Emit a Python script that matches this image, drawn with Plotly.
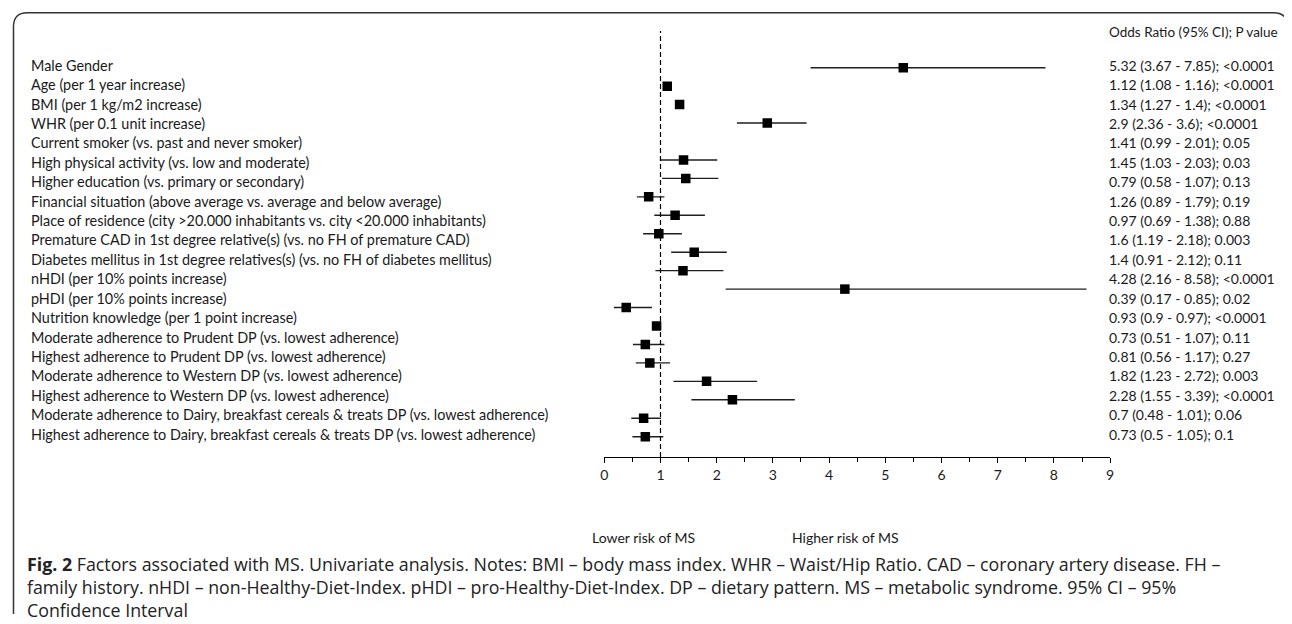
import plotly.graph_objects as go

factors = [
    "Male Gender",
    "Age (per 1 year increase)",
    "BMI (per 1 kg/m2 increase)",
    "WHR (per 0.1 unit increase)",
    "Current smoker (vs. past and never smoker)",
    "High physical activity (vs. low and moderate)",
    "Higher education (vs. primary or secondary)",
    "Financial situation (above average vs. average and below average)",
    "Place of residence (city >20.000 inhabitants vs. city <20.000 inhabitants)",
    "Premature CAD in 1st degree relative(s) (vs. no FH of premature CAD)",
    "Diabetes mellitus in 1st degree relatives(s) (vs. no FH of diabetes mellitus)",
    "nHDI (per 10% points increase)",
    "pHDI (per 10% points increase)",
    "Nutrition knowledge (per 1 point increase)",
    "Moderate adherence to Prudent DP (vs. lowest adherence)",
    "Highest adherence to Prudent DP (vs. lowest adherence)",
    "Moderate adherence to Western DP (vs. lowest adherence)",
    "Highest adherence to Western DP (vs. lowest adherence)",
    "Moderate adherence to Dairy, breakfast cereals & treats DP (vs. lowest adherence)",
    "Highest adherence to Dairy, breakfast cereals & treats DP (vs. lowest adherence)",
]
odds_ratio = [5.32, 1.12, 1.34, 2.9, 1.41, 1.45, 0.79, 1.26, 0.97, 1.6,
              1.4, 4.28, 0.39, 0.93, 0.73, 0.81, 1.82, 2.28, 0.7, 0.73]
ci_low = [3.67, 1.08, 1.27, 2.36, 0.99, 1.03, 0.58, 0.89, 0.69, 1.19,
          0.91, 2.16, 0.17, 0.9, 0.51, 0.56, 1.23, 1.55, 0.48, 0.5]
ci_high = [7.85, 1.16, 1.4, 3.6, 2.01, 2.03, 1.07, 1.79, 1.38, 2.18,
           2.12, 8.58, 0.85, 0.97, 1.07, 1.17, 2.72, 3.39, 1.01, 1.05]
p_values = ["<0.0001", "<0.0001", "<0.0001", "<0.0001", "0.05", "0.03", "0.13",
            "0.19", "0.88", "0.003", "0.11", "<0.0001", "0.02", "<0.0001",
            "0.11", "0.27", "0.003", "<0.0001", "0.06", "0.1"]
x_ticks = [0, 1, 2, 3, 4, 5, 6, 7, 8, 9]
blank_after = 4  # the original chart has an empty marker row after WHR

header_text = "Odds Ratio (95% CI); P value"
lower_text = "Lower risk of MS"
higher_text = "Higher risk of MS"
caption_lines = [
    "<b>Fig. 2</b> Factors associated with MS. Univariate analysis. Notes: BMI – body mass index. "
    "WHR – Waist/Hip Ratio. CAD – coronary artery disease. FH –",
    "family history. nHDI – non-Healthy-Diet-Index. pHDI – pro-Healthy-Diet-Index. "
    "DP – dietary pattern. MS – metabolic syndrome. 95% CI – 95%",
    "Confidence Interval",
]


def fmt(v):
    return "%g" % v


right_texts = ["%s (%s - %s); %s" % (fmt(o), fmt(l), fmt(h), p)
               for o, l, h, p in zip(odds_ratio, ci_low, ci_high, p_values)]

# marker rows: blank row inserted in the marker column
n = len(factors)
y_pts = [i if i < blank_after else i + 1 for i in range(n)]
n_slots = n + 1
label_step = (n_slots - 1) / (n - 1)
y_lab = [i * label_step for i in range(n)]

# page layout (the page body has an 8px margin)
PAGE_W, PAGE_H = 1292, 624
OX, OY = 8, 8
W, H = PAGE_W - OX, PAGE_H - OY


def px(x):
    return (x - OX) / W


def py(y):
    return 1 - (y - OY) / H


row0_px, rowN_px = 67.7, 436.7
slot_px = (rowN_px - row0_px) / (n_slots - 1)
plot_top, plot_bot = 31, 457
y_top = -(row0_px - plot_top) / slot_px
y_bot = (n_slots - 1) + (plot_bot - rowN_px) / slot_px

fig = go.Figure()
fig.add_trace(go.Scatter(
    x=odds_ratio, y=y_pts, mode="markers",
    marker=dict(symbol="square", size=9.5, color="black"),
    error_x=dict(type="data", symmetric=False,
                 array=[h - o for h, o in zip(ci_high, odds_ratio)],
                 arrayminus=[o - l for o, l in zip(odds_ratio, ci_low)],
                 color="#1e1e1e", thickness=1.4, width=0),
    showlegend=False, hoverinfo="skip"))

FONT = "Lato, sans-serif"
label_font = dict(family=FONT, size=14.4, color="#1a1a1a")
value_font = dict(family=FONT, size=14, color="#1a1a1a")
header_font = dict(family=FONT, size=13.5, color="#1a1a1a")
annotations = []
for lab, txt, yy in zip(factors, right_texts, y_lab):
    annotations.append(dict(x=px(25.5), xref="paper", y=yy, yref="y", text=lab,
                            xanchor="left", yanchor="middle", showarrow=False,
                            yshift=2.5, font=label_font))
    annotations.append(dict(x=px(1109.5), xref="paper", y=yy, yref="y", text=txt,
                            xanchor="left", yanchor="middle", showarrow=False,
                            yshift=2.5, font=value_font))
annotations.append(dict(x=px(1109.5), xref="paper", y=py(32), yref="paper",
                        text=header_text, xanchor="left", yanchor="middle",
                        showarrow=False, font=header_font))
small_font = dict(family=FONT, size=14, color="#1a1a1a")
annotations.append(dict(x=px(643), xref="paper", y=py(537), yref="paper",
                        text=lower_text, xanchor="center", yanchor="middle",
                        showarrow=False, font=small_font))
annotations.append(dict(x=px(847), xref="paper", y=py(537), yref="paper",
                        text=higher_text, xanchor="center", yanchor="middle",
                        showarrow=False, font=small_font))
annotations.append(dict(x=px(21), xref="paper", y=py(623.5), yref="paper",
                        text="<br>".join(caption_lines), xanchor="left",
                        yanchor="bottom", align="left", showarrow=False,
                        font=dict(family="Open Sans, sans-serif", size=17.8,
                                  color="#222222")))

# rounded border (right edge sits at the picture edge)
r = 14
L, T, R, B = 9.5, 12.7, 1291.5, 614


def P(x, y):
    return "%.5f,%.5f" % (px(x), py(y))


border = ("M " + P(L, B) + " L " + P(L, T + r) + " Q " + P(L, T) + " " + P(L + r, T) +
          " L " + P(R - r, T) + " Q " + P(R, T) + " " + P(R, T + r) + " L " + P(R, B))

fig.update_layout(
    width=W, height=H, margin=dict(l=0, r=0, t=0, b=0),
    paper_bgcolor="white", plot_bgcolor="white",
    xaxis=dict(domain=[px(604), px(1113)], range=[0, 9], tickvals=x_ticks,
               showgrid=False, zeroline=False, showline=True, linecolor="black",
               linewidth=1, ticks="outside", ticklen=5, tickcolor="black",
               minor=dict(dtick=0.5, ticks="outside", ticklen=4, tickcolor="black"),
               tickfont=dict(family=FONT, size=14, color="#1a1a1a"),
               fixedrange=True),
    yaxis=dict(domain=[py(plot_bot), py(plot_top)], range=[y_bot, y_top],
               visible=False, fixedrange=True),
    annotations=annotations,
    shapes=[
        dict(type="line", xref="x", yref="y domain", x0=1, x1=1, y0=0, y1=1,
             line=dict(color="black", width=1.2, dash="5px,3px")),
        dict(type="path", xref="paper", yref="paper", path=border,
             line=dict(color="#333333", width=1.5)),
    ],
)

fig.write_html("out.html")
